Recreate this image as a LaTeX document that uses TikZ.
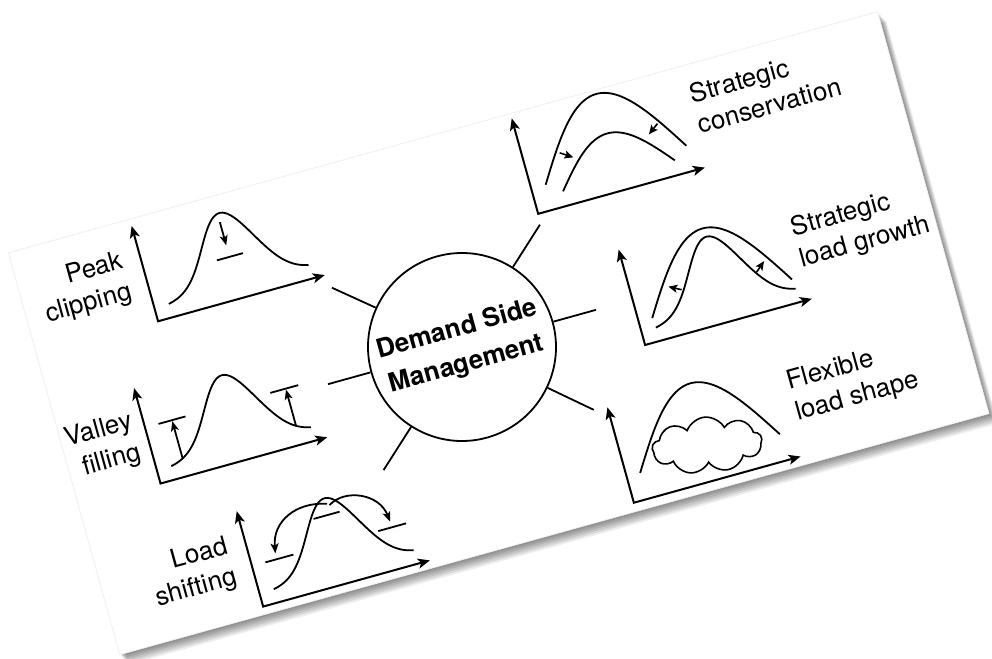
\documentclass[tikz,border=0pt]{standalone}
\usepackage{fontspec}
\setmainfont{TeX Gyre Heros}
\usetikzlibrary{arrows.meta, shapes.symbols}

\tikzset{
  axisline/.style={line width=2pt, <->, >={Stealth[length=12pt,width=10pt,inset=3pt]}},
  loadcurve/.style={line width=1.8pt},
  levelbar/.style={line width=1.8pt},
  shiftarrow/.style={line width=1.8pt, ->, >={Stealth[length=10pt,width=8pt,inset=2.5pt]}},
  tinyarrow/.style={line width=1.6pt, ->, >={Stealth[length=9pt,width=8pt,inset=2pt]}},
  spoke/.style={line width=1.8pt},
  caption/.style={font=\fontsize{26}{32}\selectfont, inner sep=0pt, rotate=15.5},
}

\begin{document}
\begin{tikzpicture}[x=1pt, y=1pt]
  \useasboundingbox (0,0) rectangle (992,-658);
  \fill[white] (0,0) rectangle (992,-658);

  \begin{scope}[shift={(462,-347)}, rotate=15.5]
    % Sheet shadow
    \fill[black, opacity=0.09] (-411,-207) rectangle (491,210);
    \fill[black, opacity=0.09] (-410,-209) rectangle (492,208);
    \fill[black, opacity=0.09] (-409,-211) rectangle (493,206);
    \fill[black, opacity=0.09] (-408,-213) rectangle (494,204);
    \fill[black, opacity=0.09] (-407,-215) rectangle (495,202);
    \fill[black, opacity=0.07] (-406,-217) rectangle (496,200);

    % Sheet
    \fill[white, draw=black!6, line width=0.8pt] (-412,-205) rectangle (490,212);

    % Centre circle
    \node[circle, draw, line width=1.8pt, minimum size=188pt, inner sep=0pt, rotate=15.5,
          font=\fontsize{26}{36}\selectfont\bfseries, align=center] (dsm) at (0,0) {Demand Side\\Management};

    % Spokes
    \coordinate (pc-link)  at (140:143);
    \coordinate (vf-link)  at (180:139);
    \coordinate (ls-link)  at (222:146);
    \coordinate (sc-link)  at (42:145);
    \coordinate (slg-link) at (0:139);
    \coordinate (fls-link) at (-41:146);
    \draw[spoke] (dsm.140) -- (pc-link);
    \draw[spoke] (dsm.180) -- (vf-link);
    \draw[spoke] (dsm.222) -- (ls-link);
    \draw[spoke] (dsm.42)  -- (sc-link);
    \draw[spoke] (dsm.0)   -- (slg-link);
    \draw[spoke] (dsm.-41) -- (fls-link);

    % Peak clipping
    \begin{scope}[shift={(-286,106)}]
      \draw[axisline] (0,99) -- (0,0) -- (173,0);
      \draw[loadcurve] plot[domain=15:160, samples=60] (\x, {12+76*exp(-((\x-88)/38)*((\x-88)/38))});
      \draw[shiftarrow] (86,79) -- (86,55);
      \draw[levelbar] (73,43) -- (100,43);
      \node[caption, anchor=east, align=right] (pc-label) at (-18,51) {Peak\\clipping};
    \end{scope}

    % Valley filling
    \begin{scope}[shift={(-327,-51)}]
      \draw[axisline] (0,99) -- (0,0) -- (173,0);
      \draw[loadcurve] plot[domain=15:160, samples=60] (\x, {12+76*exp(-((\x-88)/38)*((\x-88)/38))});
      \draw[levelbar] (14,58) -- (42,58);
      \draw[levelbar] (130,58) -- (159,58);
      \draw[shiftarrow] (28,18) -- (28,57);
      \draw[shiftarrow] (146,19) -- (146,57);
      \node[caption, anchor=east, align=right] (vf-label) at (-11,51) {Valley\\filling};
    \end{scope}

    % Load shifting
    \begin{scope}[shift={(-261,-197)}]
      \draw[axisline] (0,99) -- (0,0) -- (173,0);
      \draw[loadcurve] plot[domain=15:160, samples=60] (\x, {12+76*exp(-((\x-88)/38)*((\x-88)/38))});
      \draw[levelbar] (14,42) -- (43,42);
      \draw[levelbar] (72,71) -- (99,71);
      \draw[levelbar] (131,42) -- (160,42);
      \draw[shiftarrow] (89,82) .. controls (60,92) and (32,80) .. (26,48);
      \draw[shiftarrow] (91,80) .. controls (110,92) and (142,78) .. (145,48);
      \node[caption, anchor=east, align=right] (ls-label) at (-18,51) {Load\\shifting};
    \end{scope}

    % Strategic conservation
    \begin{scope}[shift={(109,108)}]
      \draw[axisline] (0,99) -- (0,0) -- (173,0);
      \draw[loadcurve] plot[domain=15:161, samples=50] (\x, {26+74*sin((\x-15)/146*180)});
      \draw[loadcurve] plot[domain=30:146, samples=50] (\x, {15+44*sin((\x-30)/116*180)});
      \draw[tinyarrow] (37,53) -- (49,45);
      \draw[tinyarrow] (139,55) -- (128,47);
      \node[caption, anchor=west, align=left] (sc-label) at (178,59) {Strategic\\conservation};
    \end{scope}

    % Strategic load growth
    \begin{scope}[shift={(177,-47)}]
      \draw[axisline] (0,99) -- (0,0) -- (173,0);
      \draw[loadcurve] plot[domain=14:159, samples=50] (\x, {24+73*sin((\x-14)/145*180)});
      \draw[loadcurve] plot[domain=15:160, samples=60] (\x, {12+76*exp(-((\x-88)/38)*((\x-88)/38))});
      \draw[tinyarrow] (50,43.5) -- (38,50);
      \draw[tinyarrow] (127,40.5) -- (137,49);
      \node[caption, anchor=west, align=left] (slg-label) at (172,56) {Strategic\\load growth};
    \end{scope}

    % Flexible load shape
    \begin{scope}[shift={(124,-196)}]
      \draw[axisline] (0,99) -- (0,0) -- (173,0);
      \draw[loadcurve] plot[domain=14:159, samples=50] (\x, {27+73*sin((\x-14)/145*180)});
      \node[cloud, draw, line width=1.6pt, cloud puffs=9, cloud puff arc=130, cloud ignores aspect,
            minimum width=110pt, minimum height=56pt, inner sep=0pt, rotate=5] (flex-cloud) at (86,36) {};
      \node[caption, anchor=west, align=left] (fls-label) at (180,58) {Flexible\\load shape};
    \end{scope}
  \end{scope}
\end{tikzpicture}
\end{document}
